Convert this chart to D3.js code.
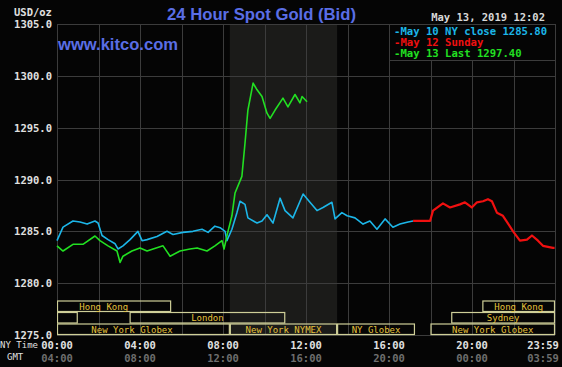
<!DOCTYPE html>
<html lang="en">
<head>
<meta charset="utf-8">
<script src="https://d3js.org/d3.v7.min.js"></script>
<style>
  body { margin: 0; background: #050505; }
  svg { display: block; }
  .mono { font-family: "DejaVu Sans Mono", "Liberation Mono", monospace; }
</style>
</head>
<body>
<script>

// data (hours in NY time, price USD/oz)
const may10Hours = [0, 0.29, 0.77, 1.11, 1.45, 1.83, 1.98, 2.17, 2.46, 2.8, 2.94, 3.18, 3.52, 3.9, 4.1, 4.34, 4.82, 5.3, 5.59, 6.07, 6.55, 6.99, 7.28, 7.61, 7.86, 8.1, 8.19, 8.43, 8.67, 8.82, 9.06, 9.2, 9.64, 9.88, 10.12, 10.41, 10.75, 10.99, 11.37, 11.86, 12.19, 12.53, 12.82, 13.25, 13.4, 13.73, 13.98, 14.36, 14.75, 15.08, 15.42, 15.81, 16.19, 16.53, 16.92, 17.16]
const may10Values = [1284.1, 1285.4, 1286.0, 1285.9, 1285.7, 1286.0, 1285.8, 1284.6, 1284.2, 1283.8, 1283.3, 1283.6, 1284.2, 1285.0, 1284.1, 1284.2, 1284.5, 1285.0, 1284.7, 1284.9, 1285.0, 1285.2, 1284.9, 1285.5, 1285.35, 1285.0, 1284.1, 1285.2, 1286.8, 1287.9, 1287.6, 1286.3, 1285.8, 1286.0, 1286.6, 1285.8, 1288.2, 1287.0, 1286.3, 1288.6, 1287.8, 1287.0, 1287.3, 1287.8, 1286.2, 1286.8, 1286.5, 1286.3, 1285.7, 1286.0, 1285.2, 1286.2, 1285.4, 1285.7, 1285.9, 1286.0]

const may12Hours = [17.16, 17.98, 18.12, 18.6, 18.94, 19.42, 19.66, 19.99, 20.24, 20.53, 20.77, 20.96, 21.2, 21.49, 21.98, 22.31, 22.65, 22.89, 23.18, 23.42, 23.9, 23.98]
const may12Values = [1286.0, 1286.0, 1287.0, 1287.7, 1287.3, 1287.6, 1287.8, 1287.3, 1287.8, 1287.9, 1288.1, 1287.9, 1286.8, 1286.5, 1285.0, 1284.1, 1284.2, 1284.6, 1284.1, 1283.6, 1283.4, 1283.4]

const may13Hours = [0, 0.29, 0.77, 1.25, 1.83, 2.07, 2.46, 2.89, 3.04, 3.18, 3.61, 4.0, 4.34, 4.63, 5.11, 5.45, 5.93, 6.41, 6.75, 7.23, 7.61, 7.95, 8.05, 8.24, 8.43, 8.58, 8.91, 9.06, 9.2, 9.45, 9.64, 9.88, 10.12, 10.27, 10.51, 10.89, 11.13, 11.47, 11.71, 11.81, 12.05]
const may13Values = [1283.6, 1283.1, 1283.75, 1283.75, 1284.55, 1284.1, 1283.6, 1283.1, 1282.0, 1282.6, 1283.1, 1283.4, 1283.1, 1283.3, 1283.6, 1282.6, 1283.1, 1283.3, 1283.4, 1283.1, 1283.6, 1284.1, 1283.3, 1285.0, 1286.5, 1288.7, 1290.3, 1293.5, 1296.7, 1299.3, 1298.65, 1298.0, 1296.4, 1295.9, 1296.7, 1297.85, 1297.0, 1298.2, 1297.4, 1298.0, 1297.5]

const yTicks = [1275, 1280, 1285, 1290, 1295, 1300, 1305]
const nyLabels = ['00:00', '04:00', '08:00', '12:00', '16:00', '20:00', '23:59']
const gmtLabels = ['04:00', '08:00', '12:00', '16:00', '20:00', '00:00', '03:59']
const labelHours = [0, 4, 8, 12, 16, 20, 24]

const legendText = ['-May 10 NY close 1285.80', '-May 12 Sunday', '-May 13 Last 1297.40']
const legendColors = ['#1cb6e8', '#f01010', '#22e022']

// trading sessions: [row, start, end, label]
const sessions = [
  [0, -1.0, 5.5, 'Hong Kong'],
  [0, 20.5, 24, 'Hong Kong'],
  [1, 0, 1.0, ''],
  [1, 3.5, 11.0, 'London'],
  [1, 19.0, 24, 'Sydney'],
  [2, -1.1, 8.33, 'New York Globex'],
  [2, 8.33, 13.5, 'New York NYMEX'],
  [2, 13.5, 17.25, 'NY Globex'],
  [2, 18.0, 24, 'New York Globex']
]
const nymex = [8.33, 13.5]

const width = 562, height = 367
const x0 = 57, x1 = 555, yTop = 24, yBot = 335

const x = d3.scaleLinear().domain([0, 24]).range([x0, x1])
const y = d3.scaleLinear().domain([1275, 1305]).range([yBot, yTop])

const svg = d3.select('body').append('svg')
  .attr('width', width)
  .attr('height', height)

svg.append('rect').attr('width', width).attr('height', height).attr('fill', '#050505')

// NYMEX shading
svg.append('rect')
  .attr('x', x(nymex[0])).attr('y', yTop)
  .attr('width', x(nymex[1]) - x(nymex[0])).attr('height', yBot - yTop)
  .attr('fill', '#1b1b19')

// grid
const grid = svg.append('g').attr('stroke', '#3c3c3c').attr('stroke-width', 1)
grid.selectAll('line.h').data(yTicks).enter().append('line')
  .attr('x1', x0).attr('x2', x1)
  .attr('y1', d => Math.round(y(d)) + 0.5).attr('y2', d => Math.round(y(d)) + 0.5)
grid.selectAll('line.v').data(d3.range(0, 25, 2)).enter().append('line')
  .attr('y1', yTop).attr('y2', yBot)
  .attr('x1', d => Math.round(x(d)) + 0.5).attr('x2', d => Math.round(x(d)) + 0.5)

// session boxes
const rowH = 11.5
const clip = svg.append('clipPath').attr('id', 'plotclip')
clip.append('rect').attr('x', x0).attr('y', yTop).attr('width', x1 - x0).attr('height', yBot - yTop + 1)

const sess = svg.append('g').attr('clip-path', 'url(#plotclip)')
sess.selectAll('rect').data(sessions).enter().append('rect')
  .attr('x', d => x(Math.max(d[1], 0)) + 0.5)
  .attr('y', d => yBot - (3 - d[0]) * rowH + 0.5)
  .attr('width', d => x(Math.min(d[2], 24)) - x(Math.max(d[1], 0)) - 1)
  .attr('height', rowH - 1)
  .attr('fill', 'none')
  .attr('stroke', '#cfcf98')
  .attr('stroke-width', 1.2)
sess.selectAll('text').data(sessions).enter().append('text')
  .attr('class', 'mono')
  .attr('x', d => x((d[1] + d[2]) / 2))
  .attr('y', d => yBot - (3 - d[0]) * rowH + rowH / 2 + 0.5)
  .attr('text-anchor', 'middle')
  .attr('dominant-baseline', 'central')
  .attr('font-size', 9)
  .attr('fill', '#e6c23c')
  .text(d => d[3])

// lines
const line = d3.line().x(d => x(d[0])).y(d => y(d[1]))
const series = [
  [d3.zip(may10Hours, may10Values), '#1cb6e8', 1.6],
  [d3.zip(may13Hours, may13Values), '#22e022', 1.6],
  [d3.zip(may12Hours, may12Values), '#f01010', 2.2]
]
svg.selectAll('path.s').data(series).enter().append('path')
  .attr('fill', 'none')
  .attr('stroke', d => d[1])
  .attr('stroke-width', d => d[2])
  .attr('stroke-linejoin', 'round')
  .attr('d', d => line(d[0]))

// legend
const lx = 389, ly = yTop, lw = x1 - lx, lh = 36
svg.append('rect').attr('x', lx + 0.5).attr('y', ly + 0.5).attr('width', lw).attr('height', lh)
  .attr('fill', '#050505').attr('stroke', '#3c3c3c')
svg.selectAll('text.leg').data(legendText).enter().append('text')
  .attr('class', 'mono')
  .attr('x', lx + 5)
  .attr('y', (d, i) => ly + 7 + i * 11)
  .attr('dominant-baseline', 'central')
  .attr('font-size', 10.6)
  .attr('font-weight', 'bold')
  .attr('fill', (d, i) => legendColors[i])
  .text(d => d)

// plot border on right
svg.append('line').attr('x1', x1 + 0.5).attr('x2', x1 + 0.5).attr('y1', yTop).attr('y2', yBot).attr('stroke', '#3c3c3c')

// y labels
svg.selectAll('text.yl').data(yTicks).enter().append('text')
  .attr('class', 'mono')
  .attr('x', 52)
  .attr('y', d => y(d))
  .attr('text-anchor', 'end')
  .attr('dominant-baseline', 'central')
  .attr('font-size', 10.5)
  .attr('font-weight', 'bold')
  .attr('fill', '#e0e0e0')
  .text(d => d.toFixed(1))

svg.append('text').attr('class', 'mono')
  .attr('x', 14).attr('y', 12)
  .attr('dominant-baseline', 'central')
  .attr('font-size', 10.5).attr('font-weight', 'bold').attr('fill', '#e0e0e0')
  .text('USD/oz')

// x labels (last one pulled inside the edge)
const labelX = (d, i) => i === labelHours.length - 1 ? x(labelHours[i]) - 12 : x(labelHours[i])
svg.selectAll('text.ny').data(nyLabels).enter().append('text')
  .attr('class', 'mono')
  .attr('x', labelX)
  .attr('y', 345)
  .attr('text-anchor', 'middle')
  .attr('dominant-baseline', 'central')
  .attr('font-size', 10.5)
  .attr('font-weight', 'bold')
  .attr('fill', '#e0e0e0')
  .text(d => d)
svg.selectAll('text.gmt').data(gmtLabels).enter().append('text')
  .attr('class', 'mono')
  .attr('x', labelX)
  .attr('y', 357.5)
  .attr('text-anchor', 'middle')
  .attr('dominant-baseline', 'central')
  .attr('font-size', 10.5)
  .attr('font-weight', 'bold')
  .attr('fill', '#6e6e6e')
  .text(d => d)
svg.append('text').attr('class', 'mono')
  .attr('x', 38).attr('y', 345).attr('text-anchor', 'end')
  .attr('dominant-baseline', 'central')
  .attr('font-size', 9).attr('fill', '#e0e0e0')
  .text('NY Time')
svg.append('text').attr('class', 'mono')
  .attr('x', 7).attr('y', 357)
  .attr('dominant-baseline', 'central')
  .attr('font-size', 9).attr('fill', '#e0e0e0')
  .text('GMT')

// titles
svg.append('text')
  .attr('x', 167).attr('y', 14)
  .attr('dominant-baseline', 'central')
  .attr('font-family', '"Liberation Sans", Arial, sans-serif')
  .attr('font-size', 17)
  .attr('font-weight', 'bold')
  .attr('textLength', 189)
  .attr('lengthAdjust', 'spacingAndGlyphs')
  .attr('fill', '#5a6ee6')
  .text('24 Hour Spot Gold (Bid)')
svg.append('text')
  .attr('x', 58).attr('y', 44)
  .attr('dominant-baseline', 'central')
  .attr('font-family', '"Liberation Sans", Arial, sans-serif')
  .attr('font-size', 16)
  .attr('font-weight', 'bold')
  .attr('textLength', 120)
  .attr('lengthAdjust', 'spacingAndGlyphs')
  .attr('fill', '#5a6ee6')
  .text('www.kitco.com')
svg.append('text').attr('class', 'mono')
  .attr('x', 545).attr('y', 17).attr('text-anchor', 'end')
  .attr('dominant-baseline', 'central')
  .attr('font-size', 10.5).attr('font-weight', 'bold').attr('fill', '#d8d8d8')
  .text('May 13, 2019 12:02')

</script>
</body>
</html>
